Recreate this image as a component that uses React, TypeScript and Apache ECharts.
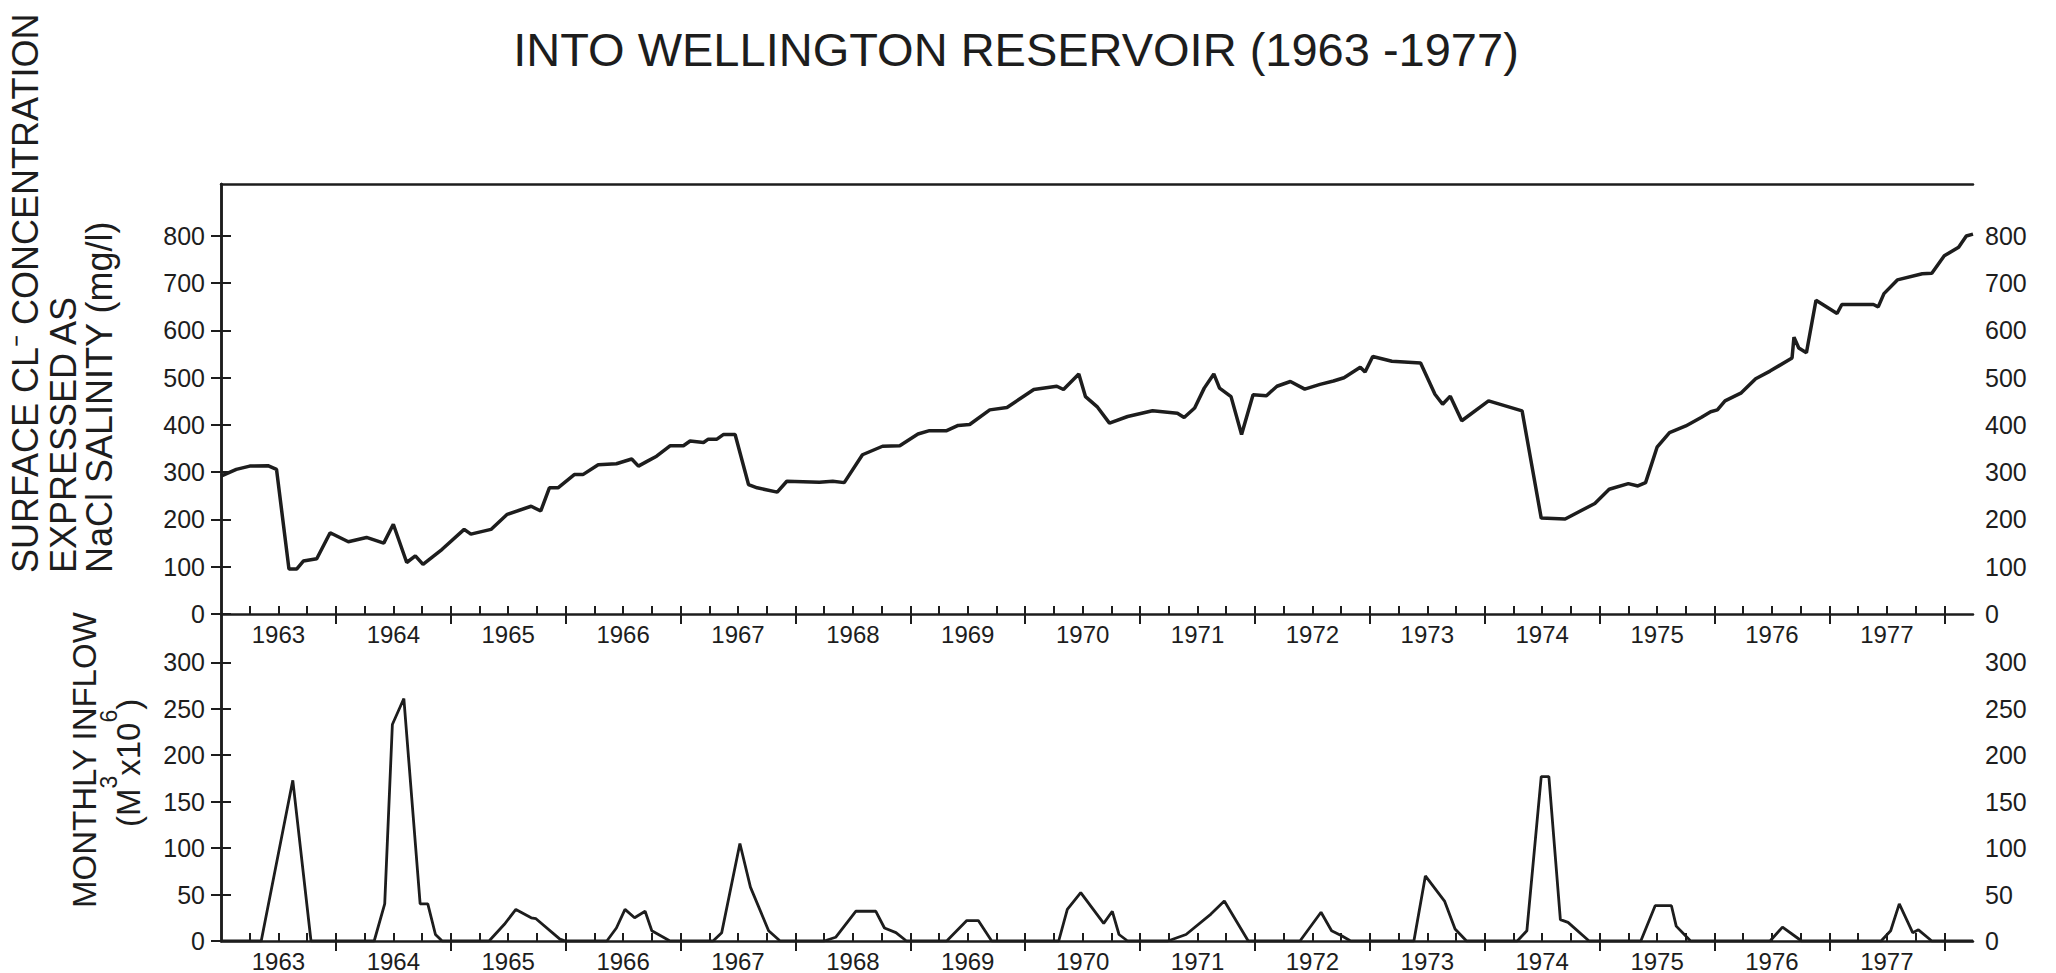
import React, { useEffect, useRef } from "react";
import * as echarts from "echarts";

// Calendar years along the time axis (one labelled segment each)
const years = [1963, 1964, 1965, 1966, 1967, 1968, 1969, 1970, 1971, 1972, 1973, 1974, 1975, 1976, 1977];

// Tick values on the two vertical scales
const salinityTicks = [0, 100, 200, 300, 400, 500, 600, 700, 800];
const inflowTicks = [0, 50, 100, 150, 200, 250, 300];

// [months since January 1963, surface Cl- as NaCl salinity (mg/l)]
const salinity: [number, number][] = [
  [0, 292], [1.6, 306], [3.0, 313], [4.9, 314], [5.8, 306], [7.1, 95], [7.9, 95], [8.6, 112],
  [10.0, 117], [11.4, 172], [13.3, 153], [15.2, 162], [17.0, 150], [18.0, 190], [19.4, 109],
  [20.3, 123], [21.1, 105], [23.1, 137], [25.4, 179], [26.1, 169], [28.2, 179], [29.9, 211],
  [32.4, 228], [33.4, 218], [34.3, 267], [35.2, 267], [36.9, 295], [37.8, 295], [39.4, 316],
  [41.3, 318], [42.9, 328], [43.6, 313], [44.5, 323], [45.5, 334], [46.9, 356], [48.3, 356],
  [49.0, 366], [50.4, 363], [50.9, 370], [51.8, 370], [52.5, 380], [53.7, 380], [55.1, 274],
  [56.0, 267], [58.1, 258], [59.1, 281], [62.5, 279], [63.9, 281], [65.1, 278], [67.0, 337],
  [69.1, 355], [70.9, 356], [72.8, 381], [74.0, 388], [75.8, 388], [77.0, 399], [78.2, 401],
  [80.3, 432], [82.1, 437], [84.9, 475], [87.3, 482], [88.0, 475], [89.6, 508], [90.3, 460],
  [91.5, 439], [92.8, 404], [94.7, 418], [97.3, 430], [99.9, 425], [100.6, 416], [101.7, 436],
  [102.7, 478], [103.7, 508], [104.3, 478], [105.5, 460], [106.6, 380], [107.8, 464], [109.2, 462],
  [110.3, 482], [111.7, 492], [113.2, 476], [114.8, 486], [116.2, 493], [117.3, 500], [119.0, 522],
  [119.5, 512], [120.3, 545], [122.3, 535], [125.3, 531], [126.8, 465], [127.6, 444], [128.4, 461],
  [129.6, 409], [132.4, 451], [135.9, 430], [137.9, 203], [140.4, 201], [143.5, 234], [145.0, 264],
  [147.0, 276], [148.0, 271], [148.8, 278], [150.0, 353], [151.3, 384], [153.0, 398], [154.6, 416],
  [155.6, 428], [156.3, 432], [157.1, 451], [158.8, 468], [160.3, 498], [161.8, 514], [164.1, 542],
  [164.3, 586], [164.8, 563], [165.6, 553], [166.6, 664], [168.8, 636], [169.3, 655], [172.6, 655],
  [173.1, 650], [173.7, 678], [175.1, 707], [177.7, 720], [178.7, 721], [180.0, 758], [181.5, 776],
  [182.3, 800], [183.0, 804],
];

// [months since January 1963, monthly inflow (10^6 m^3)]
const inflow: [number, number][] = [
  [0, 0], [4.2, 0], [7.5, 173], [9.4, 0], [16.0, 0], [17.1, 40], [17.9, 233], [19.1, 261],
  [20.8, 40], [21.6, 40], [22.4, 7], [23.1, 0], [28.0, 0], [29.6, 18], [30.8, 34], [32.4, 25],
  [32.9, 24], [35.4, 2], [36.0, 0], [40.3, 0], [41.3, 14], [42.2, 34], [43.2, 25], [44.3, 32],
  [45.0, 11], [46.9, 0], [51.4, 0], [52.3, 9], [54.2, 105], [55.3, 58], [57.2, 11], [58.4, 0],
  [63.0, 0], [64.2, 4], [66.3, 32], [68.4, 32], [69.3, 14], [70.5, 9], [71.6, 0], [75.8, 0],
  [77.9, 22], [79.1, 22], [80.5, 0], [87.5, 0], [88.4, 34], [89.8, 52], [92.2, 19], [93.1, 32],
  [93.8, 7], [94.7, 0], [98.9, 0], [100.8, 7], [103.4, 29], [104.8, 43], [107.3, 0], [112.7, 0],
  [114.9, 31], [116.0, 11], [117.0, 6], [118.0, 0], [124.6, 0], [125.8, 70], [127.8, 43],
  [128.9, 13], [130.1, 0], [135.4, 0], [136.4, 11], [137.9, 177], [138.7, 177], [139.9, 23],
  [140.7, 20], [142.9, 0], [148.3, 0], [149.8, 38], [151.5, 38], [152.0, 16], [153.5, 0],
  [161.8, 0], [163.1, 15], [165.1, 0], [173.4, 0], [174.4, 11], [175.3, 40], [176.7, 9],
  [177.3, 12], [178.7, 0], [183.0, 0],
];

const MONTHS_SHOWN = 183;
const SALINITY_TOP = 910;
const INFLOW_TOP = 352;

const INK = "#1d1d1d";
const FONT = '"Liberation Sans", Arial, sans-serif';

function textWidth(s: string, size: number): number {
  const ctx = document.createElement("canvas").getContext("2d");
  if (!ctx) return s.length * size * 0.55;
  ctx.font = `${size}px "Liberation Sans", Arial, sans-serif`;
  return ctx.measureText(s).width;
}

export default function App() {
  const ref = useRef<HTMLDivElement>(null);

  useEffect(() => {
    const el = ref.current;
    if (!el) return;
    const chart = echarts.init(el, null, { renderer: "svg" });

    const span = years.length * 12;
    const yearBounds: number[] = [];
    for (let m = 12; m <= span; m += 12) yearBounds.push(m);
    const quarterTicks: number[] = [];
    for (let m = 3; m <= span; m += 3) quarterTicks.push(m);
    const yearMids = years.map((_, i) => i * 12 + 6);

    const axisLine = { show: true, onZero: false, lineStyle: { color: INK, width: 2.5 } };
    const labelText = { color: INK, fontFamily: FONT };

    // Two x axes per panel: inward quarter ticks + labels, outward year ticks
    const timeAxes = (gridIndex: number) => [
      {
        type: "value", gridIndex, min: 0, max: MONTHS_SHOWN, position: "bottom",
        axisLine,
        axisTick: { show: true, inside: true, length: 8, customValues: quarterTicks, lineStyle: { color: INK, width: 2 } },
        axisLabel: {
          show: true, customValues: yearMids, margin: 8, fontSize: 24, ...labelText,
          formatter: (v: number) => String(years[Math.round((v - 6) / 12)]),
        },
        splitLine: { show: false },
      },
      {
        type: "value", gridIndex, min: 0, max: MONTHS_SHOWN, position: "bottom",
        axisLine: { show: false },
        axisTick: { show: true, inside: false, length: 10, customValues: yearBounds, lineStyle: { color: INK, width: 2 } },
        axisLabel: { show: false },
        splitLine: { show: false },
      },
    ];

    const valueAxis = (gridIndex: number, position: string, max: number, ticks: number[]) => ({
      type: "value", gridIndex, position, min: 0, max,
      axisLine: { show: true, lineStyle: { color: INK, width: 2.5 } },
      axisTick: { show: true, inside: false, length: 10, customValues: ticks, lineStyle: { color: INK, width: 2 } },
      axisLabel: {
        show: true, customValues: ticks, fontSize: 25, ...labelText,
        margin: position === "left" ? 16 : 12,
      },
      splitLine: { show: false },
    });

    // Superscripted units label for the inflow panel
    const unitBase = 33;
    const unitSup = 23;
    const parts: [string, boolean][] = [["(M", false], ["3", true], ["x10", false], ["6", true], [")", false]];
    let cursor = 0;
    const unitChildren = parts.map(([s, sup]) => {
      const size = sup ? unitSup : unitBase;
      const item = {
        type: "text", x: cursor, y: sup ? -19 : 0,
        style: { text: s, fontSize: size, fontFamily: FONT, fill: INK, align: "left", verticalAlign: "middle" },
      };
      cursor += textWidth(s, size);
      return item;
    });

    const rotated = (text: string, x: number, y: number, size: number) => ({
      type: "text", x, y, rotation: Math.PI / 2,
      style: { text, fontSize: size, fontFamily: FONT, fill: INK, align: "left", verticalAlign: "middle" },
    });

    chart.setOption({
      animation: false,
      backgroundColor: "#ffffff",
      grid: [
        { left: 221, top: 184, width: 1752, height: 430, show: false, containLabel: false, outerBoundsMode: "none" },
        { left: 221, top: 614, width: 1752, height: 327, show: false, containLabel: false, outerBoundsMode: "none" },
      ],
      xAxis: [
        ...timeAxes(0),
        {
          type: "value", gridIndex: 0, min: 0, max: MONTHS_SHOWN, position: "top",
          axisLine, axisTick: { show: false }, axisLabel: { show: false }, splitLine: { show: false },
        },
        ...timeAxes(1),
      ],
      yAxis: [
        valueAxis(0, "left", SALINITY_TOP, salinityTicks),
        valueAxis(0, "right", SALINITY_TOP, salinityTicks),
        valueAxis(1, "left", INFLOW_TOP, inflowTicks),
        valueAxis(1, "right", INFLOW_TOP, inflowTicks),
      ],
      series: [
        {
          name: "Salinity", type: "line", xAxisIndex: 0, yAxisIndex: 0, data: salinity,
          showSymbol: false, symbol: "none", lineStyle: { color: INK, width: 3.5 }, z: 5,
        },
        {
          name: "Inflow", type: "line", xAxisIndex: 3, yAxisIndex: 2, data: inflow,
          showSymbol: false, symbol: "none", lineStyle: { color: INK, width: 2.8 }, z: 5,
        },
      ],
      graphic: [
        {
          type: "text", x: 1016, y: 49,
          style: {
            text: "INTO WELLINGTON RESERVOIR (1963 -1977)", fontSize: 47, fontFamily: FONT,
            fill: INK, align: "center", verticalAlign: "middle",
          },
        },
        rotated("SURFACE CL\u207B CONCENTRATION", 25, 573, 36),
        rotated("EXPRESSED AS", 63, 573, 36),
        rotated("NaCl SALINITY (mg/l)", 99, 573, 36),
        rotated("MONTHLY INFLOW", 84, 908, 33),
        { type: "group", x: 128, y: 827, rotation: Math.PI / 2, children: unitChildren },
      ],
    });

    return () => chart.dispose();
  }, []);

  return (
    <div
      ref={ref}
      style={{ position: "fixed", left: 0, top: 0, width: 2056, height: 973, background: "#ffffff" }}
    />
  );
}
